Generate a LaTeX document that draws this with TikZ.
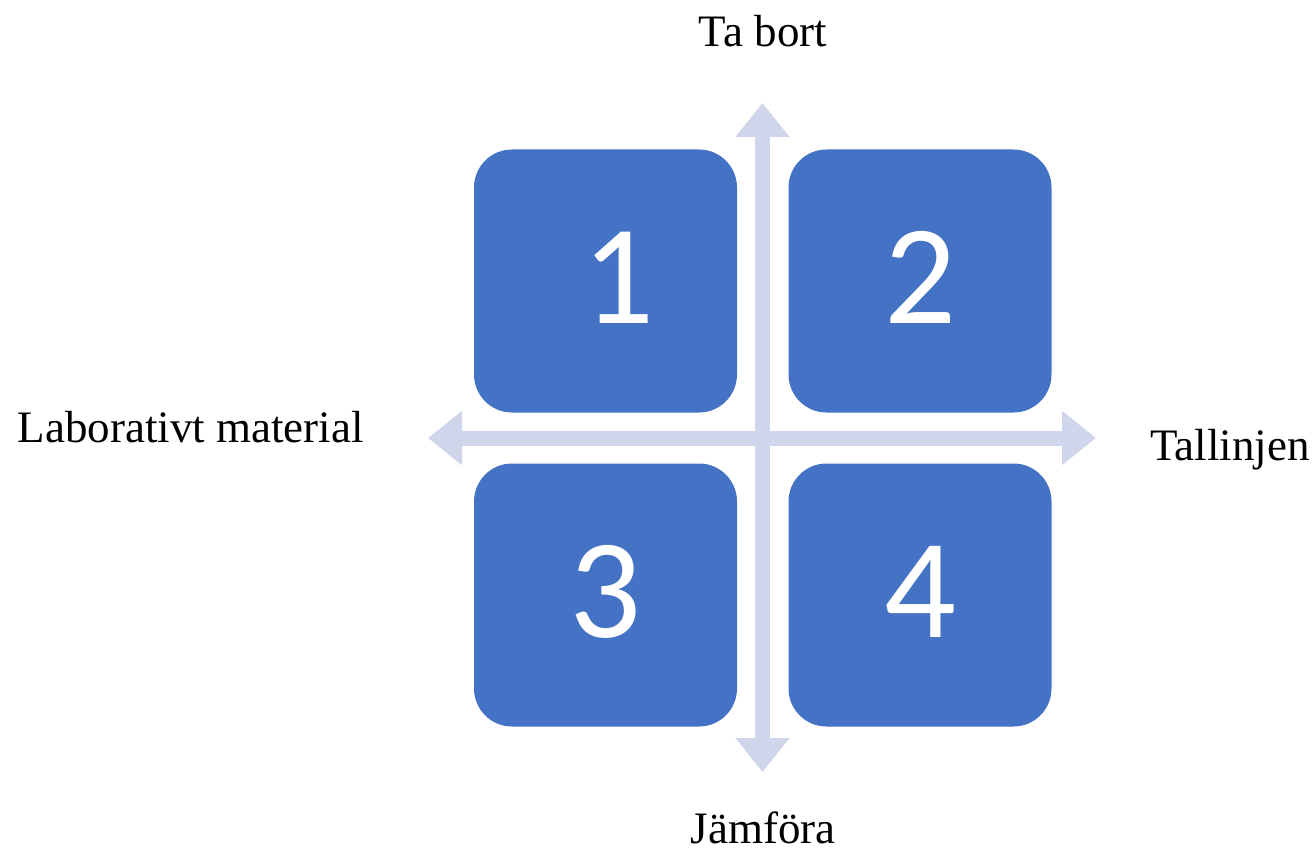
\documentclass[tikz,border=0pt]{standalone}
\usepackage{fontspec}
\setmainfont{Liberation Serif}
\newfontfamily\numfont{Carlito}
\usetikzlibrary{arrows.meta}
\definecolor{boxblue}{RGB}{68,114,196}
\definecolor{axiscol}{RGB}{207,213,234}
\begin{document}
\begin{tikzpicture}[x=1pt,y=-1pt,
  quad/.style={rectangle, rounded corners=38pt, fill=boxblue, draw=none,
    minimum width=263pt, minimum height=263pt, inner sep=0pt},
  num/.style={text=white, font=\numfont\fontsize{142}{142}\selectfont, inner sep=0pt, anchor=base},
  lbl/.style={font=\fontsize{45}{50}\selectfont, inner sep=0pt, text=black},
  axis/.style={draw=axiscol, line width=15pt,
    {Triangle[width=52pt,length=34pt]}-{Triangle[width=52pt,length=34pt]}}
]
\useasboundingbox (0,0) rectangle (1314,853);
% axes
\coordinate (top) at (762.5,103);
\coordinate (bot) at (762.5,772);
\coordinate (lft) at (428,438);
\coordinate (rgt) at (1096,438);
\draw[axis] (top) -- (bot);
\draw[axis] (lft) -- (rgt);
% boxes
\node[quad] (b1) at (605.5,281) {};
\node[quad] (b2) at (920,281) {};
\node[quad] (b3) at (605.5,595) {};
\node[quad] (b4) at (920,595) {};
\node[num] (n1) at ([yshift=-42pt,xshift=13pt]b1.center) {1};
\node[num] (n2) at ([yshift=-42pt]b2.center) {2};
\node[num] (n3) at ([yshift=-42pt]b3.center) {3};
\node[num] (n4) at ([yshift=-42pt]b4.center) {4};
% labels
\node[lbl, anchor=base] (ltop) at (763,47) {Ta bort};
\node[lbl, anchor=base] (lbot) at (763,843) {Jämföra};
\node[lbl, anchor=base east] (lleft) at (364,442) {Laborativt material};
\node[lbl, anchor=base west] (lright) at (1150,460) {Tallinjen};
\end{tikzpicture}
\end{document}
